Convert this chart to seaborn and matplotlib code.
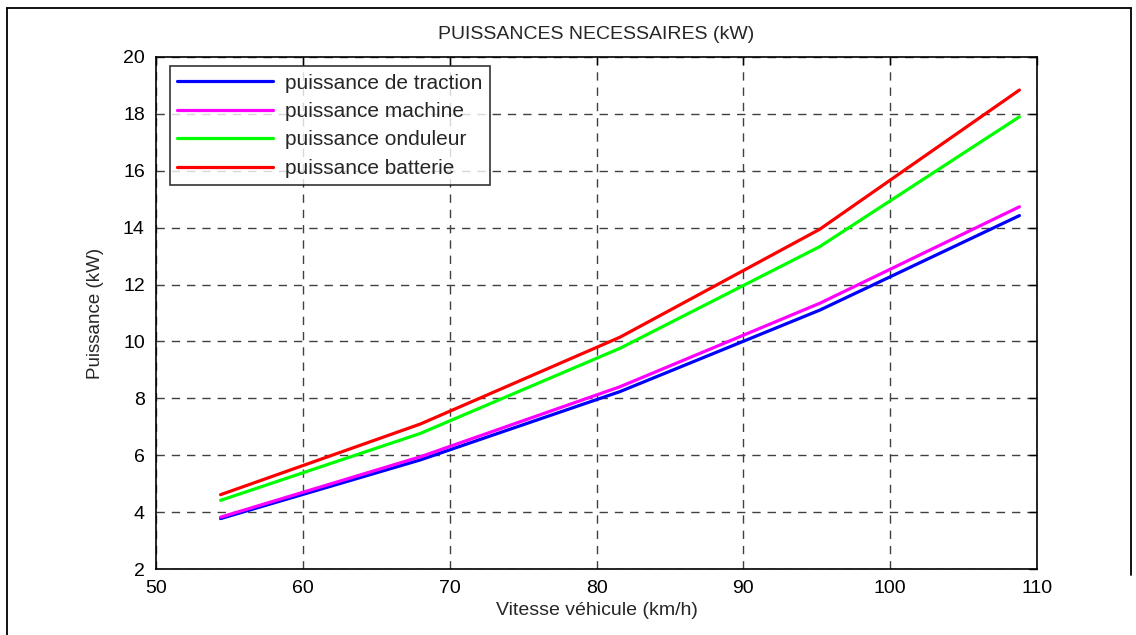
import matplotlib
matplotlib.use("Agg")
import matplotlib.pyplot as plt
import seaborn as sns
import pandas as pd
from matplotlib.lines import Line2D

vitesse = [54.4, 68.0, 81.6, 95.2, 108.8]
p_traction = [3.78, 5.84, 8.24, 11.10, 14.42]
p_machine = [3.83, 5.95, 8.41, 11.34, 14.73]
p_onduleur = [4.42, 6.77, 9.76, 13.33, 17.89]
p_batterie = [4.62, 7.10, 10.15, 13.94, 18.83]

labels = ["puissance de traction", "puissance machine",
          "puissance onduleur", "puissance batterie"]
colors = ["#0000FF", "#FF00FF", "#00FF00", "#FF0000"]

rows = []
for lab, vals in zip(labels, [p_traction, p_machine, p_onduleur, p_batterie]):
    for x, y in zip(vitesse, vals):
        rows.append({"Vitesse": x, "Puissance": y, "serie": lab})
df = pd.DataFrame(rows)

sns.set_theme(style="white")
plt.rcParams['font.family'] = ['Liberation Sans', 'DejaVu Sans']

fig = plt.figure(figsize=(11.36, 6.35), dpi=100)
ax = fig.add_axes([0.1373, 0.1035, 0.9129 - 0.1373, 0.9107 - 0.1035])

sns.lineplot(data=df, x="Vitesse", y="Puissance", hue="serie",
             hue_order=labels, palette=colors, linewidth=2.3,
             ax=ax, legend=False, sort=False)

ax.set_xlim(50, 110)
ax.set_ylim(2, 20)
ax.set_xticks(range(50, 111, 10))
ax.set_yticks(range(2, 21, 2))
ax.grid(True, color="#404040", linestyle=(0, (6, 5)), linewidth=1.0)
ax.tick_params(direction="in", length=6, width=1, top=True, right=True,
               labelsize=14, colors="black", pad=8)
for s in ax.spines.values():
    s.set_color("black")
    s.set_linewidth(1.2)
    s.set_visible(True)

ax.set_xlabel("Vitesse véhicule (km/h)", fontsize=14, labelpad=3)
ax.set_ylabel("Puissance (kW)", fontsize=13.5, labelpad=14)
ax.set_title("PUISSANCES NECESSAIRES (kW)", fontsize=14, pad=13)

handles = [Line2D([0], [0], color=c, linewidth=2.3) for c in colors]
leg = ax.legend(handles, labels, loc="upper left", bbox_to_anchor=(0.0155, 0.981),
                fontsize=15, frameon=True, fancybox=False, handlelength=4.6,
                labelspacing=0.45, borderpad=0.35, handletextpad=0.6,
                borderaxespad=0)
leg.get_frame().set_edgecolor("black")
leg.get_frame().set_linewidth(1.2)

# figure border frame (left, top, right)
W, H = 1136, 635
fig.add_artist(Line2D([7 / W, 7 / W], [0, 1 - 8 / H], color="black", lw=1.3,
                      transform=fig.transFigure))
fig.add_artist(Line2D([7 / W, 1131 / W], [1 - 8 / H, 1 - 8 / H], color="black",
                      lw=1.3, transform=fig.transFigure))
fig.add_artist(Line2D([1131 / W, 1131 / W], [1 - 8 / H, 1 - 575 / H], color="black",
                      lw=1.3, transform=fig.transFigure))

fig.savefig("out.png", dpi=100, facecolor="white")
